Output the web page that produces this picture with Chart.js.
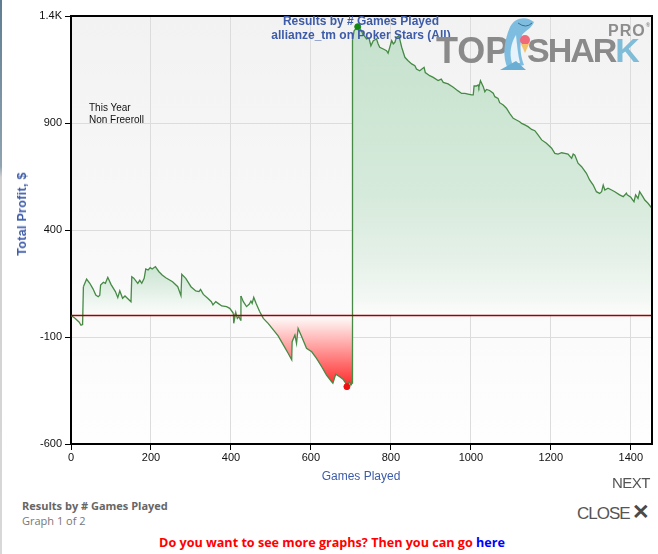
<!DOCTYPE html>
<html>
<head>
<meta charset="utf-8">
<title>Results by # Games Played</title>
<script src="https://cdn.jsdelivr.net/npm/chart.js@4.4.0/dist/chart.umd.min.js"></script>
<style>
  body { margin: 0; width: 658px; height: 554px; position: relative; overflow: hidden; background: #fff; font-family: Arial, "Liberation Sans", sans-serif; }
  #wrap { position: absolute; left: 0; top: 0; width: 658px; height: 490px; }
  .abs { position: absolute; white-space: nowrap; }
  .blue { color: #3d5ba8; }
  #edge { position: absolute; left: 0; top: 0; width: 2px; height: 554px; background: linear-gradient(#5f7d92, #8fa3b0 30%, #d0d0d0 32%, #d8d8d8); }
</style>
</head>
<body>
<div id="edge"></div>
<div id="wrap"><canvas id="chart" width="658" height="490"></canvas></div>

<div class="abs blue" style="left:0;width:722px;top:14px;text-align:center;font-weight:bold;font-size:12px;line-height:14px;">Results by # Games Played<br>allianze_tm on Poker Stars (All)</div>
<div class="abs" style="left:89px;top:102px;font-size:10px;line-height:12px;color:#111;">This Year<br>Non Freeroll</div>
<div class="abs blue" style="left:0;width:722px;top:469px;text-align:center;font-size:12px;">Games Played</div>
<div class="abs blue" style="left:22px;top:214px;width:0;height:0;">
  <div style="position:absolute;left:0;top:0;transform:translate(-50%,-50%) rotate(-90deg);font-size:12.5px;font-weight:bold;white-space:nowrap;letter-spacing:0.3px;">Total Profit, $</div>
</div>

<!-- logo -->
<div class="abs" style="left:608px;top:22px;font-weight:bold;font-size:16px;color:#8d8d8d;letter-spacing:1px;">PRO<span style="font-size:6px;vertical-align:top;">®</span></div>
<div class="abs" style="left:436px;top:30px;font-weight:bold;font-size:36px;color:#8a8a8a;">TOP</div>
<div class="abs" style="left:527px;top:31px;font-weight:bold;font-size:34px;color:#8a8a8a;letter-spacing:-2px;">SHAR<span style="color:#7fbcd8;">K</span></div>
<svg class="abs" style="left:490px;top:13px;" width="52" height="58" viewBox="0 0 52 58">
  <path d="M18 56 C 12 44, 14 28, 20 14 C 24 5, 36 2, 44 9 C 42 15, 36 17, 32 22 C 29 34, 31 44, 34 52 Z" fill="#7fbde0"/>
  <path d="M22 50 C 19 40, 21 30, 26 22 C 27 32, 28 42, 30 50 Z" fill="#e6f3fa"/>
  <path d="M10 57 L 36 57 L 26 48 Z" fill="#6aaed4"/>
  <circle cx="35" cy="27" r="5" fill="#f0697a"/>
  <path d="M31 31 L 39 31 L 35 40 Z" fill="#f2c16a"/>
  <path d="M28 10 Q 36 16 42 10" stroke="#3a6f8a" stroke-width="1" fill="none"/>
</svg>

<!-- footer -->
<div class="abs" style="left:612px;top:474px;font-size:15px;color:#555;letter-spacing:-0.5px;">NEXT</div>
<div class="abs" style="left:577px;top:500px;font-size:17px;color:#555;letter-spacing:-1px;">CLOSE<span style="font-weight:bold;font-size:21px;margin-left:2px;color:#4a4a4a;">✕</span></div>
<div class="abs" style="left:22px;top:498px;font-family:'Open Sans',sans-serif;font-weight:bold;font-size:11px;color:#666;">Results by # Games Played</div>
<div class="abs" style="left:22px;top:513px;font-family:'Open Sans',sans-serif;font-size:11px;color:#777;">Graph 1 of 2</div>
<div class="abs" style="left:0;width:664px;top:534px;text-align:center;font-family:'Open Sans',sans-serif;font-weight:bold;font-size:12.6px;color:#ff0000;">Do you want to see more graphs? Then you can go <span style="color:#0000ff;">here</span></div>

<script>
// games played (x) and cumulative profit in $ (y)
const games = [
  0, 10, 20, 25, 29, 31, 39, 47, 55, 62, 68, 72, 74, 81, 86, 92, 100, 111, 117, 122,
  129, 135, 141, 150, 152, 157, 167, 172, 177, 183, 187, 193, 198, 203, 211, 220, 228, 237, 254, 267,
  275, 277, 287, 300, 312, 320, 324, 331, 342, 351, 355, 362, 368, 377, 389, 397, 406, 407, 412, 416,
  420, 424, 425, 431, 439, 446, 450, 453, 457, 463, 472, 481, 493, 506, 518, 531, 543, 552, 553, 560,
  564, 568, 577, 589, 602, 614, 627, 639, 652, 655, 662, 672, 681, 687, 690, 696, 700, 703, 704, 708,
  717, 725, 730, 739, 745, 750, 756, 764, 768, 772, 781, 789, 793, 802, 806, 810, 814, 820, 827, 835,
  843, 852, 860, 864, 872, 883, 886, 897, 906, 918, 926, 931, 943, 956, 968, 977, 985, 993, 1002, 1006,
  1008, 1014, 1018, 1020, 1024, 1031, 1035, 1039, 1047, 1056, 1060, 1068, 1072, 1081, 1089, 1097, 1106, 1114, 1122, 1127,
  1135, 1143, 1152, 1160, 1168, 1177, 1189, 1202, 1210, 1218, 1227, 1235, 1243, 1252, 1256, 1260, 1268, 1277, 1289, 1297,
  1306, 1314, 1322, 1327, 1331, 1335, 1343, 1352, 1360, 1372, 1381, 1389, 1391, 1400, 1408, 1412, 1418, 1422, 1430, 1435,
  1443, 1453
];
const profit = [
  0, -12, -30, -45, -42, 135, 171, 151, 125, 96, 88, 95, 143, 156, 151, 179, 146, 112, 84, 116,
  81, 92, 81, 65, 182, 175, 151, 165, 151, 174, 218, 213, 224, 218, 229, 205, 190, 177, 158, 135,
  93, 193, 174, 135, 115, 112, 122, 99, 81, 65, 50, 65, 57, 45, 42, 34, 11, -36, 15, -13,
  -5, -21, 92, 65, 42, 54, 68, 57, 85, 57, 18, -13, -36, -67, -95, -137, -176, -207, -122, -91,
  -130, -60, -99, -153, -169, -200, -239, -278, -309, -316, -274, -286, -299, -316, -332, -309, -325, -316, 1288, 1331,
  1350, 1335, 1316, 1293, 1298, 1261, 1285, 1293, 1270, 1254, 1246, 1238, 1226, 1285, 1270, 1277, 1300, 1308, 1254, 1207,
  1191, 1176, 1168, 1152, 1144, 1160, 1136, 1121, 1113, 1098, 1105, 1090, 1083, 1067, 1050, 1038, 1038, 1035, 1031, 1031,
  1073, 1073, 1078, 1067, 1098, 1070, 1046, 1057, 1052, 1039, 1023, 1015, 995, 984, 969, 945, 922, 914, 906, 898,
  891, 883, 870, 864, 844, 821, 805, 782, 758, 755, 761, 758, 755, 735, 755, 750, 712, 696, 665, 634,
  610, 579, 571, 579, 610, 587, 595, 587, 579, 564, 556, 572, 564, 553, 532, 564, 548, 579, 556, 540,
  525, 501
];
const xTicks = [0, 200, 400, 600, 800, 1000, 1200, 1400];
const yTicks = [-600, -100, 400, 900, 1400];
const yTickLabels = ['-600', '-100', '400', '900', '1.4K'];
const xMin = 0, xMax = 1453;
const yMin = -600, yMax = 1400;
const breakEven = 0;

const points = games.map((g, i) => ({ x: g, y: profit[i] }));
const iMax = profit.indexOf(Math.max(...profit));
const iMin = profit.indexOf(Math.min(...profit));

// the big jump splits the green area in two, each with its own fade
let iJump = 0;
for (let i = 1; i < profit.length - 1; i++) {
  if (Math.abs(profit[i + 1] - profit[i]) > Math.abs(profit[iJump + 1] - profit[iJump])) iJump = i;
}
const splitGame = games[iJump];
const leftPeak = Math.max(...profit.slice(0, iJump + 1));

let fills = null; // gradients, built once the chart area is known

const plotBackground = {
  id: 'plotBackground',
  beforeDraw(chart) {
    const { ctx, chartArea: a } = chart;
    const g = ctx.createLinearGradient(0, a.top, 0, a.bottom);
    g.addColorStop(0, '#f2f2f2');
    g.addColorStop(1, '#fefefe');
    ctx.save();
    ctx.fillStyle = g;
    ctx.fillRect(a.left, a.top, a.right - a.left, a.bottom - a.top);
    ctx.restore();
  },
  afterDraw(chart) {
    const { ctx, chartArea: a } = chart;
    ctx.save();
    ctx.strokeStyle = '#000';
    ctx.lineWidth = 2;
    ctx.beginPath();
    ctx.moveTo(a.left, a.top);
    ctx.lineTo(a.right, a.top);
    ctx.lineTo(a.right, a.bottom);
    ctx.stroke();
    ctx.restore();
  }
};

const tickFont = { family: 'Arial, "Liberation Sans", sans-serif', size: 11 };

const chart = new Chart(document.getElementById('chart'), {
  type: 'line',
  data: {
    datasets: [
      { // max marker
        data: [points[iMax]], showLine: false, pointRadius: 3,
        pointBackgroundColor: '#118a11', pointBorderColor: '#118a11'
      },
      { // min marker
        data: [points[iMin]], showLine: false, pointRadius: 3,
        pointBackgroundColor: '#ee1111', pointBorderColor: '#ee1111'
      },
      { // break-even line
        data: [{ x: xMin, y: breakEven }, { x: xMax, y: breakEven }],
        borderColor: '#a00000', borderWidth: 1.5, pointRadius: 0, fill: false
      },
      {
        label: 'Total Profit, $',
        data: points,
        borderColor: '#468a46',
        borderWidth: 1.3,
        pointRadius: 0,
        tension: 0,
        fill: { target: 'origin', above: 'rgba(220,238,224,1)', below: 'rgba(255,80,80,0.8)' },
        segment: {
          backgroundColor: c => {
            if (!fills || c.p0.parsed.y < breakEven || c.p1.parsed.y < breakEven) return undefined;
            return c.p1.parsed.x > splitGame ? fills.right : fills.left;
          }
        }
      }
    ]
  },
  options: {
    responsive: false,
    animation: false,
    events: [],
    layout: { padding: { top: 16, right: 6, left: 0, bottom: 0 } },
    plugins: { legend: { display: false }, tooltip: { enabled: false } },
    scales: {
      x: {
        type: 'linear', min: xMin, max: xMax,
        afterFit: s => { s.height = 46; },
        afterBuildTicks: s => { s.ticks = xTicks.map(v => ({ value: v })); },
        grid: { color: '#dcdcdc', tickColor: '#000', tickLength: 6 },
        border: { color: '#000', width: 2 },
        ticks: { font: tickFont, color: '#111', padding: 1, maxRotation: 0, callback: v => String(v) }
      },
      y: {
        type: 'linear', min: yMin, max: yMax,
        afterFit: s => { s.width = 71; },
        afterBuildTicks: s => { s.ticks = yTicks.map(v => ({ value: v })); },
        grid: { color: '#dcdcdc', tickColor: '#000', tickLength: 6 },
        border: { color: '#000', width: 2 },
        ticks: { font: tickFont, color: '#111', padding: 3, callback: (v, i) => yTickLabels[i] }
      }
    }
  },
  plugins: [plotBackground]
});

const ys = chart.scales.y;
const { ctx, chartArea } = chart;
const zeroY = ys.getPixelForValue(breakEven);

const right = ctx.createLinearGradient(0, chartArea.top, 0, zeroY);
right.addColorStop(0, 'rgb(196,225,204)');
right.addColorStop(0.6, 'rgb(214,234,219)');
right.addColorStop(0.82, 'rgb(230,241,233)');
right.addColorStop(0.95, 'rgb(244,248,245)');
right.addColorStop(1, 'rgb(252,253,252)');

const left = ctx.createLinearGradient(0, ys.getPixelForValue(leftPeak), 0, zeroY);
left.addColorStop(0, 'rgb(203,228,210)');
left.addColorStop(0.45, 'rgb(224,239,228)');
left.addColorStop(0.8, 'rgb(243,248,244)');
left.addColorStop(1, 'rgb(252,253,252)');

const red = ctx.createLinearGradient(0, zeroY, 0, ys.getPixelForValue(profit[iMin]));
red.addColorStop(0, 'rgb(255,255,255)');
red.addColorStop(1, 'rgb(255,40,40)');

fills = { left, right };
chart.data.datasets[3].fill = { target: 'origin', above: left, below: red };
chart.update('none');
</script>
</body>
</html>
